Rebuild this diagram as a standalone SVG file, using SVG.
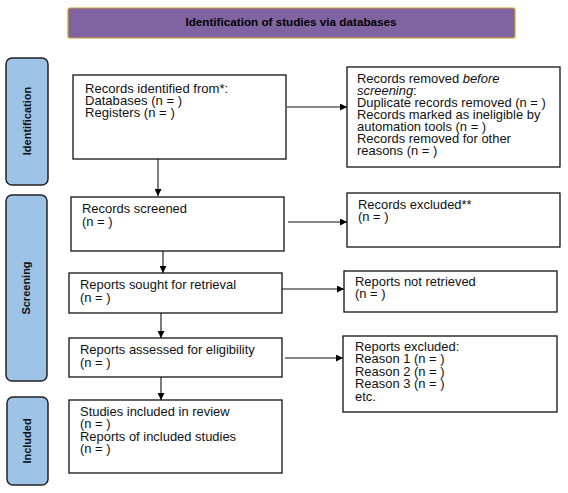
<svg xmlns="http://www.w3.org/2000/svg" width="568" height="493" viewBox="0 0 568 493">
<defs>
<marker id="ah" viewBox="0 0 10 10" refX="10" refY="5" markerWidth="7" markerHeight="7" markerUnits="userSpaceOnUse" orient="auto"><path d="M0,0 L10,5 L0,10 z" fill="#000"/></marker>
<style>
.box{fill:#fff;stroke:#111;stroke-width:1.3}
.side{fill:#9dc3e6;stroke:#222;stroke-width:1.5}
.t{font-family:"Liberation Sans",Arial,sans-serif;font-size:12px;fill:#111}
.sl{font-family:"Liberation Sans",Arial,sans-serif;font-size:11px;font-weight:bold;fill:#111}
.ttl{font-family:"Liberation Sans",Arial,sans-serif;font-size:11.7px;font-weight:bold;fill:#000}
.c{stroke:#111;stroke-width:1.1;fill:none;marker-end:url(#ah)}
</style>
</defs>
<rect width="568" height="493" fill="#fff"/>
<g id="title"><rect x="68" y="8" width="447" height="30" rx="2" fill="#8064a2" stroke="#c9a227" stroke-width="1.2"/><text class="ttl" x="291" y="26" text-anchor="middle">Identification of studies via databases</text></g>
<g id="side-identification"><rect class="side" x="6" y="58" width="42" height="127" rx="6"/><text class="sl" transform="translate(31,121) rotate(-90)" text-anchor="middle">Identification</text></g>
<g id="side-screening"><rect class="side" x="6" y="195" width="41" height="186" rx="6"/><text class="sl" transform="translate(30,288) rotate(-90)" text-anchor="middle">Screening</text></g>
<g id="side-included"><rect class="side" x="7" y="397" width="41" height="88" rx="6"/><text class="sl" transform="translate(31,441) rotate(-90)" text-anchor="middle">Included</text></g>
<g id="records-identified"><rect class="box" x="73" y="75" width="213" height="84"/><g transform="translate(85,0) scale(1.09,1)"><text class="t" x="0" y="93">Records identified from*:</text><text class="t" x="0" y="105">Databases (n = )</text><text class="t" x="0" y="117">Registers (n = )</text></g></g>
<g id="records-removed"><rect class="box" x="347" y="67" width="213" height="100"/><g transform="translate(357,0) scale(1.08,1)"><text class="t" x="0" y="83">Records removed <tspan font-style="italic">before</tspan></text><text class="t" x="0" y="95"><tspan font-style="italic">screening</tspan>:</text><text class="t" x="0" y="107">Duplicate records removed (n = )</text><text class="t" x="0" y="119">Records marked as ineligible by</text><text class="t" x="0" y="131">automation tools (n = )</text><text class="t" x="0" y="143">Records removed for other</text><text class="t" x="0" y="155">reasons (n = )</text></g></g>
<g id="records-screened"><rect class="box" x="71" y="197" width="213" height="54"/><g transform="translate(82,0) scale(1.08,1)"><text class="t" x="0" y="213">Records screened</text><text class="t" x="0" y="226">(n = )</text></g></g>
<g id="records-excluded"><rect class="box" x="347" y="193" width="213" height="54"/><g transform="translate(358,0) scale(1.08,1)"><text class="t" x="0" y="209">Records excluded**</text><text class="t" x="0" y="221">(n = )</text></g></g>
<g id="reports-sought"><rect class="box" x="69" y="273" width="213" height="40"/><g transform="translate(80,0) scale(1.08,1)"><text class="t" x="0" y="289">Reports sought for retrieval</text><text class="t" x="0" y="302">(n = )</text></g></g>
<g id="reports-not-retrieved"><rect class="box" x="344" y="271" width="213" height="41"/><g transform="translate(355,0) scale(1.08,1)"><text class="t" x="0" y="286">Reports not retrieved</text><text class="t" x="0" y="298">(n = )</text></g></g>
<g id="reports-assessed"><rect class="box" x="69" y="338" width="213" height="39"/><g transform="translate(80,0) scale(1.08,1)"><text class="t" x="0" y="354">Reports assessed for eligibility</text><text class="t" x="0" y="367">(n = )</text></g></g>
<g id="reports-excluded"><rect class="box" x="343" y="336" width="214" height="76"/><g transform="translate(355,0) scale(1.08,1)"><text class="t" x="0" y="351">Reports excluded:</text><text class="t" x="0" y="363.5">Reason 1 (n = )</text><text class="t" x="0" y="376">Reason 2 (n = )</text><text class="t" x="0" y="388.5">Reason 3 (n = )</text><text class="t" x="0" y="401">etc.</text></g></g>
<g id="studies-included"><rect class="box" x="69" y="400" width="213" height="73"/><g transform="translate(80,0) scale(1.08,1)"><text class="t" x="0" y="416">Studies included in review</text><text class="t" x="0" y="428.5">(n = )</text><text class="t" x="0" y="441">Reports of included studies</text><text class="t" x="0" y="453.5">(n = )</text></g></g>
<g id="connectors">
<line class="c" x1="158" y1="159" x2="158" y2="196"/>
<line class="c" x1="163" y1="251" x2="163" y2="273"/>
<line class="c" x1="161" y1="313" x2="161" y2="338"/>
<line class="c" x1="161" y1="377" x2="161" y2="400"/>
<line class="c" x1="287" y1="107" x2="347" y2="107"/>
<line class="c" x1="288" y1="222" x2="347" y2="222"/>
<line class="c" x1="282" y1="289" x2="344" y2="289"/>
<line class="c" x1="285" y1="358" x2="343" y2="358"/>
</g>
</svg>
